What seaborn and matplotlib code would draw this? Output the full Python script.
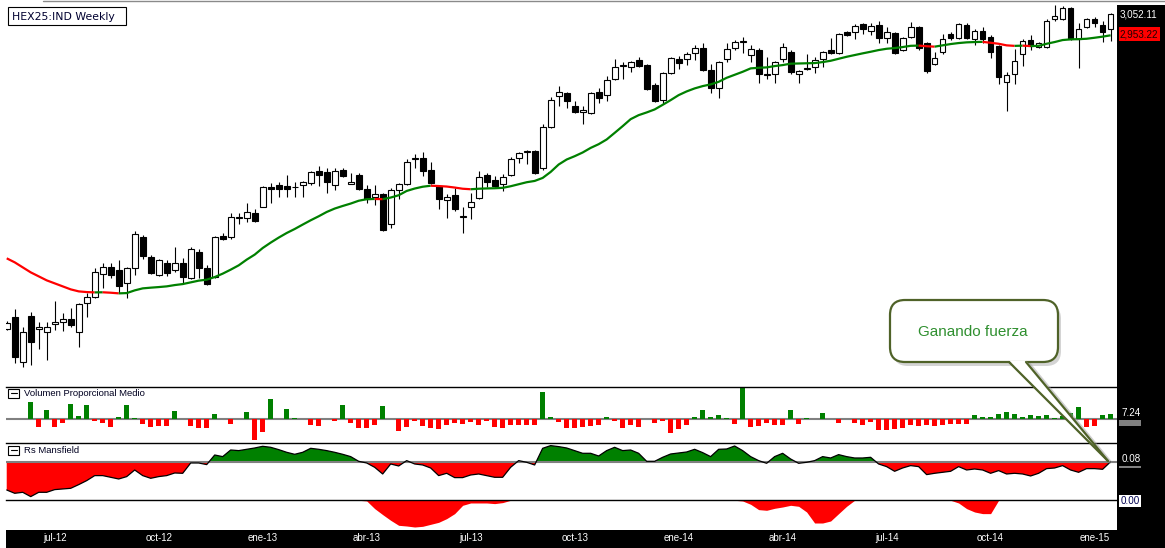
import numpy as np
import pandas as pd
import seaborn as sns
import matplotlib.pyplot as plt
from matplotlib.patches import Rectangle, FancyBboxPatch, Polygon
from matplotlib.lines import Line2D

# HEX25:IND weekly candles
first_week = "2012-05-25"
month_abbr = {1: "ene", 4: "abr", 7: "jul", 10: "oct"}

opens = [1577, 1629, 1418, 1638, 1573, 1559, 1596, 1606, 1620, 1559,
         1695, 1723, 1831, 1864, 1850, 1789, 1859, 2005, 1911, 1827,
         1883, 1850, 1883, 1812, 1935, 1859, 1817, 2010, 2005, 2094,
         2094, 2118, 2146, 2240, 2250, 2245, 2240, 2250, 2259, 2315,
         2311, 2250, 2320, 2254, 2297, 2231, 2193, 2207, 2066, 2226,
         2254, 2372, 2376, 2320, 2245, 2179, 2202, 2099, 2146, 2188,
         2297, 2273, 2254, 2297, 2376, 2405, 2409, 2329, 2522, 2668,
         2682, 2621, 2593, 2588, 2687, 2673, 2748, 2809, 2804, 2837,
         2814, 2719, 2649, 2776, 2842, 2842, 2870, 2893, 2790, 2705,
         2842, 2893, 2922, 2860, 2884, 2767, 2771, 2842, 2875, 2771,
         2795, 2804, 2842, 2884, 2870, 2969, 2969, 3006, 2973, 3001,
         2940, 2964, 2884, 2945, 2992, 2917, 2818, 2875, 2959, 2940,
         3001, 2936, 2973, 2945, 2903, 2734, 2771, 2865, 2931, 2898,
         2898, 3030, 3030, 3081, 2936, 2992, 3030, 3001, 2983]
highs = [1610, 1667, 1582, 1653, 1606, 1606, 1704, 1648, 1671, 1695,
         1742, 1859, 1883, 1883, 1897, 1864, 2033, 2014, 1921, 1902,
         1897, 1958, 1906, 1958, 1949, 1874, 2010, 2024, 2118, 2118,
         2165, 2137, 2245, 2259, 2264, 2297, 2264, 2268, 2315, 2339,
         2329, 2329, 2329, 2306, 2306, 2250, 2250, 2212, 2235, 2259,
         2372, 2395, 2405, 2358, 2250, 2207, 2235, 2146, 2212, 2315,
         2306, 2292, 2301, 2381, 2405, 2414, 2414, 2536, 2663, 2715,
         2687, 2644, 2621, 2687, 2705, 2762, 2842, 2828, 2832, 2851,
         2818, 2729, 2781, 2851, 2856, 2875, 2907, 2917, 2818, 2832,
         2917, 2931, 2945, 2907, 2893, 2851, 2832, 2917, 2884, 2790,
         2865, 2851, 2879, 2940, 2964, 2973, 3006, 3011, 3011, 3020,
         2992, 2969, 2945, 3016, 2997, 2922, 2875, 2959, 2969, 3011,
         3011, 2983, 2992, 2954, 2907, 2781, 2889, 2936, 2954, 2922,
         3030, 3096, 3091, 3086, 3011, 3034, 3039, 3020, 3058]
lows = [1568, 1413, 1394, 1404, 1483, 1427, 1568, 1563, 1582, 1488,
        1629, 1718, 1765, 1812, 1742, 1718, 1827, 1902, 1831, 1822,
        1822, 1841, 1789, 1808, 1812, 1779, 1812, 1991, 1996, 2066,
        2076, 2076, 2146, 2165, 2193, 2193, 2193, 2193, 2250, 2245,
        2212, 2226, 2287, 2254, 2226, 2165, 2155, 2033, 2047, 2184,
        2250, 2329, 2292, 2255, 2137, 2094, 2127, 2024, 2090, 2184,
        2240, 2240, 2221, 2292, 2353, 2348, 2301, 2320, 2517, 2621,
        2611, 2588, 2536, 2583, 2635, 2644, 2743, 2748, 2781, 2804,
        2696, 2640, 2630, 2771, 2795, 2814, 2837, 2785, 2682, 2658,
        2828, 2884, 2870, 2828, 2729, 2748, 2729, 2828, 2771, 2729,
        2790, 2776, 2804, 2865, 2865, 2950, 2936, 2959, 2954, 2917,
        2917, 2865, 2879, 2940, 2884, 2776, 2814, 2865, 2931, 2936,
        2936, 2907, 2917, 2846, 2724, 2597, 2724, 2809, 2884, 2893,
        2893, 3020, 3025, 2931, 2799, 2987, 2992, 2922, 2926]
closes = [1601, 1441, 1559, 1512, 1582, 1582, 1606, 1620, 1592, 1690,
          1723, 1841, 1864, 1827, 1775, 1859, 2019, 1916, 1836, 1897,
          1836, 1883, 1817, 1949, 1859, 1784, 2005, 1996, 2099, 2099,
          2123, 2080, 2240, 2231, 2231, 2231, 2241, 2264, 2311, 2297,
          2264, 2315, 2292, 2264, 2231, 2184, 2207, 2038, 2226, 2254,
          2358, 2376, 2315, 2259, 2184, 2193, 2137, 2104, 2170, 2287,
          2264, 2245, 2287, 2372, 2400, 2409, 2306, 2522, 2649, 2687,
          2644, 2593, 2602, 2682, 2658, 2743, 2804, 2814, 2828, 2809,
          2701, 2644, 2776, 2846, 2823, 2865, 2893, 2790, 2705, 2828,
          2889, 2922, 2926, 2889, 2771, 2771, 2828, 2898, 2781, 2785,
          2799, 2837, 2875, 2870, 2959, 2954, 2997, 2983, 2997, 2940,
          2969, 2870, 2940, 2992, 2893, 2785, 2846, 2936, 2940, 3006,
          2940, 2973, 2936, 2875, 2757, 2767, 2832, 2926, 2903, 2917,
          3020, 3044, 3081, 2936, 2983, 3030, 3011, 2969, 3052.11]

# moving average drawn on the price panel
ma30 = [1906.4, 1887.6, 1864.1, 1840.6, 1821.8, 1803.0, 1788.9, 1774.8, 1760.7, 1751.3,
        1748.0, 1746.5, 1747.0, 1745.0, 1742.0, 1743.3, 1756.0, 1765.4, 1768.7, 1771.5,
        1774.8, 1780.9, 1785.6, 1793.6, 1801.6, 1806.3, 1818.5, 1834.5, 1853.3, 1873.5,
        1900.3, 1923.8, 1954.8, 1980.2, 2003.7, 2025.3, 2044.1, 2064.8, 2085.0, 2103.8,
        2124.0, 2140.0, 2152.2, 2163.5, 2176.7, 2184.0, 2185.0, 2184.2, 2191.7, 2202.5,
        2222.7, 2234.0, 2242.5, 2247.2, 2245.7, 2243.4, 2238.7, 2233.1, 2230.7, 2233.1,
        2234.5, 2235.4, 2237.3, 2244.8, 2254.2, 2263.6, 2269.7, 2283.8, 2312.0, 2346.8,
        2370.3, 2385.8, 2403.2, 2424.8, 2442.2, 2464.3, 2495.3, 2526.8, 2559.7, 2578.5,
        2591.2, 2605.3, 2626.9, 2649.0, 2672.5, 2689.9, 2704.0, 2714.8, 2722.8, 2735.0,
        2753.8, 2767.9, 2782.0, 2798.0, 2800.8, 2802.7, 2808.8, 2813.5, 2820.1, 2821.0,
        2822.0, 2822.9, 2827.6, 2833.7, 2843.1, 2852.5, 2860.5, 2868.5, 2876.0, 2884.0,
        2890.1, 2893.4, 2898.1, 2904.0, 2905.0, 2902.0, 2900.0, 2906.1, 2912.2, 2916.9,
        2920.2, 2921.6, 2922.5, 2918.3, 2913.6, 2906.1, 2903.7, 2904.7, 2902.8, 2903.7,
        2913.6, 2921.6, 2931.0, 2934.3, 2935.2, 2937.1, 2941.8, 2947.0, 2953.22]

nan = np.nan
vol_prop = [nan, nan, nan, 23.6, -10.4, 12.2, -10.4, -5.0, 20.4, 4.1,
            19.0, -3.2, -5.0, -10.4, 2.7, 19.0, 1.8, -6.3, -10.4, -9.1,
            -9.1, 10.9, 0, -9.1, -12.7, -11.8, 6.8, 0, -6.3, 0,
            9.5, -28.1, -17.2, 27.2, 0, 13.6, 1.8, 0, -7.7, -9.1,
            0, -2.3, 19.0, -5.0, -12.7, -11.8, -7.7, 17.7, 0, -15.9,
            -10.4, -2.3, -9.1, -11.8, -13.1, -7.7, -5.0, -6.3, -3.6, -7.7,
            -2.3, -10.4, -11.8, -7.7, -7.7, -7.7, -7.7, 36.7, 2.7, -3.6,
            -12.7, -12.7, -10.4, -9.1, -7.7, 2.7, -2.3, -11.8, -7.7, -10.4,
            0, -5.0, -2.3, -18.6, -13.1, -7.7, 2.7, 12.2, 2.7, 5.4,
            1.8, -6.3, 42.2, -10.4, -9.1, -5.0, -7.7, -7.7, 12.2, -6.3,
            1.8, 0, 8.2, 0, -5.0, 0, -5.0, -7.7, -3.6, -14.5,
            -14.5, -13.1, -11.8, -7.7, -9.1, -7.7, -9.1, -7.7, -6.3, -6.3,
            -6.3, 5.4, 2.7, 2.7, 6.8, 9.5, 6.8, 2.7, 5.4, 4.1,
            5.4, 1.8, 4.1, 8.2, 16.3, -10.4, -9.1, 5.4, 7.24]

rs_mansfield = [-4.43, -4.96, -4.8, -5.49, -4.8, -4.8, -4.37, -4.27, -4.16, -3.57,
                -2.93, -2.13, -2.13, -2.4, -2.67, -2.29, -1.23, -2.13, -2.56, -2.29,
                -2.13, -1.71, -1.76, -0.11, -0.11, -0.37, 1.17, 0.91, 1.97, 1.87,
                2.08, 2.29, 2.56, 2.4, 2.03, 1.6, 1.28, 1.6, 2.24, 2.08,
                1.87, 1.6, 1.28, 0.91, 0.16, -0.11, -0.8, -1.87, -0.27, -0.59,
                0.27, -0.27, -0.43, -0.91, -2.13, -1.76, -2.45, -2.45, -2.03, -1.87,
                -2.13, -2.4, -2.4, -0.8, 0.27, 0.0, -0.43, 2.24, 2.67, 2.51,
                2.29, 1.87, 1.44, 1.44, 1.01, 1.87, 2.4, 1.87, 1.97, 1.44,
                0.16, 0.16, 0.8, 1.33, 1.49, 1.65, 2.08, 1.55, 0.91, 2.08,
                2.13, 2.61, 1.87, 0.91, 0.27, -0.16, 0.91, 1.44, 0.53, -0.16,
                0.0, 0.27, 0.91, 0.69, 1.23, 0.91, 0.69, 0.69, 0.8, -0.27,
                -0.69, -1.44, -0.91, -0.53, -0.69, -1.97, -1.76, -1.6, -1.44, -0.69,
                -1.23, -1.07, -1.23, -1.76, -1.33, -1.87, -1.76, -1.87, -2.19, -1.76,
                -1.01, -0.91, -0.53, -1.23, -1.6, -1.01, -1.01, -1.12, 0.08]

# lower panel (below the 0.00 line)
rs_low = [0] * 40 + \
         [0, 0, 0, 0, 0, -0.1, -1.33, -2.29, -3.2, -4.0,
          -4.11, -4.27, -4.16, -3.84, -3.52, -2.93, -2.13, -0.8, -0.43, -0.43,
          -0.43, -0.53, -0.37, 0, 0, 0, 0, 0, 0, 0] + [0] * 20 + \
         [0, 0, -0.11, -0.64, -1.49, -1.6, -1.28, -1.07, -0.8, -0.96,
          -1.87, -3.63, -3.63, -3.31, -2.13, -0.96, 0, 0, 0, 0,
          0, 0, 0, 0, 0, 0, 0, 0, 0, -0.43,
          -1.33, -1.87, -2.13, -2.13, 0, 0, 0, 0, 0, 0] + [0] * 9

GREEN = "#008000"
RED = "#ff0000"
OLIVE = "#4f6228"

sns.set_theme(style="white")
plt.rcParams["font.family"] = ["DejaVu Sans"]

W, H = 1165, 548
fig = plt.figure(figsize=(W / 100, H / 100), dpi=100)
fig.patch.set_facecolor("white")


def frac(x0, y0, x1, y1):
    # pixel box (top-left origin) -> figure fraction rect
    return [x0 / W, 1 - y1 / H, (x1 - x0) / W, (y1 - y0) / H]


def inch(x, y):
    return x / 100, (H - y) / 100


ax = fig.add_axes(frac(6, 0, 1117, 386.5))
ax_vol = fig.add_axes(frac(6, 386.5, 1117, 443.3))
ax_rs = fig.add_axes(frac(6, 443.3, 1117, 500.3))
ax_low = fig.add_axes(frac(6, 500.3, 1117, 529.7))
ax_time = fig.add_axes(frac(6, 529.7, 1117, 548))

n = len(closes)
idx = np.arange(n)
o = np.array(opens, float)
hi = np.array(highs, float)
lo = np.array(lows, float)
c = np.array(closes, float)

# candles
up = c >= o
ax.vlines(idx, lo, hi, color="black", linewidth=0.8, zorder=2)
ax.bar(idx, np.maximum(np.abs(c - o), 3), bottom=np.minimum(o, c), width=0.72,
       color=np.where(up, "white", "black"), edgecolor="black", linewidth=0.8, zorder=3)

# moving average, green while rising, red while falling
ma = np.array(ma30)
rising = np.diff(ma) > 0
start = 0
for i in range(1, len(rising) + 1):
    if i == len(rising) or rising[i] != rising[start]:
        ax.plot(idx[start:i + 1], ma[start:i + 1], color=GREEN if rising[start] else RED,
                lw=1.6, solid_capstyle="butt", zorder=4)
        start = i

# volume
vol_df = pd.DataFrame({"semana": idx, "vol": vol_prop}).dropna()
vol_df["signo"] = np.where(vol_df["vol"] >= 0, "alza", "baja")
sns.barplot(data=vol_df, x="semana", y="vol", hue="signo",
            palette={"alza": GREEN, "baja": RED}, native_scale=True, dodge=False,
            width=0.66, errorbar=None, saturation=1, linewidth=0, legend=False, ax=ax_vol)
ax_vol.axhline(0, color="#808080", lw=1.5, zorder=0)

# Rs Mansfield
rs = np.array(rs_mansfield)
ax_rs.fill_between(idx, rs, 0, where=rs >= 0, interpolate=True, color=GREEN, lw=0, zorder=1)
ax_rs.fill_between(idx, rs, 0, where=rs <= 0, interpolate=True, color=RED, lw=0, zorder=1)
ax_rs.axhline(0, color="#808080", lw=1.5, zorder=2)
sns.lineplot(x=idx, y=rs, color="black", linewidth=0.9, ax=ax_rs, zorder=3)

ax_low.fill_between(idx, np.array(rs_low, float), 0, color=RED, lw=0)

for a in (ax, ax_vol, ax_rs, ax_low, ax_time):
    a.set_xlim(-0.09, 138.8)
    a.set_yticks([])
    a.set_xlabel("")
    a.set_ylabel("")
    for s in a.spines.values():
        s.set_visible(False)
for a in (ax, ax_vol, ax_rs, ax_low):
    a.set_xticks([])
for a in (ax_vol, ax_rs, ax_low):
    a.spines["top"].set_visible(True)
    a.spines["top"].set_color("black")
    a.spines["top"].set_linewidth(1)

ax.set_ylim(1304.8, 3119)
ax_vol.set_ylim(-33.05, 44.2)
ax_rs.set_ylim(-6.08, 3.04)
ax_low.set_ylim(-4.7, 0)

# date axis
ax_time.set_facecolor("black")
dates = pd.date_range(first_week, periods=n, freq="W-FRI")
tick_pos = [i for i in range(1, n)
            if dates[i].month != dates[i - 1].month and dates[i].month in month_abbr]
tick_lab = [f"{month_abbr[dates[i].month]}-{dates[i]:%y}" for i in tick_pos]
ax_time.set_xticks(tick_pos, tick_lab)
ax_time.tick_params(axis="x", length=0, pad=-11, labelcolor="white", labelsize=7)
for t in ax_time.get_xticklabels():
    t.set_fontfamily("Liberation Sans")

T = fig.dpi_scale_trans

# right price scale
fig.add_artist(Rectangle(inch(1117, 548), 0.48, 5.43, transform=T, fc="black", ec="none"))
fig.add_artist(Line2D([0.43, 11.65], [5.475, 5.475], transform=T, color="#8a8a8a", lw=1))
lab = dict(transform=T, va="center", ha="left", fontsize=7.1, family="Liberation Sans")
fig.text(*inch(1120, 14.5), "3,052.11", color="white", **lab)
fig.add_artist(Rectangle(inch(1118.5, 41.5), 0.415, 0.14, transform=T, fc=RED, ec="none"))
fig.text(*inch(1120, 34.5), "2,953.22", color="#200000", **lab)
fig.text(*inch(1122, 413.5), "7.24", color="white", **lab)
fig.add_artist(Rectangle(inch(1119, 425.5), 0.22, 0.055, transform=T, fc="#808080", ec="none"))
fig.text(*inch(1122, 459.5), "0.08", color="white", **lab)
fig.add_artist(Rectangle(inch(1119, 468), 0.22, 0.02, transform=T, fc="#808080", ec="none"))
fig.add_artist(Rectangle(inch(1119, 507), 0.22, 0.12, transform=T, fc="white", ec="none"))
fig.text(*inch(1121, 501), "0.00", color="#000050", **lab)

# title box
fig.add_artist(Rectangle(inch(8, 25), 1.18, 0.18, transform=T, fc="white", ec="black", lw=0.8))
fig.text(*inch(12, 16.5), "HEX25:IND Weekly", transform=T, va="center", ha="left",
         fontsize=7.8, color="#000030")

# panel captions with collapse boxes
for y_mid, name in ((393.3, "Volumen Proporcional Medio"), (450.3, "Rs Mansfield")):
    fig.add_artist(Rectangle(inch(8, y_mid + 4.7), 0.11, 0.095, transform=T,
                             fc="white", ec="black", lw=0.8))
    fig.add_artist(Line2D([0.105, 0.165], [inch(0, y_mid)[1]] * 2, transform=T,
                          color="black", lw=0.8))
    fig.text(*inch(24, y_mid + 0.3), name, transform=T, va="center", ha="left",
             fontsize=6.8, family="Liberation Sans", color="#000020")

# callout
fig.add_artist(FancyBboxPatch((8.93, 1.82), 1.68, 0.62, boxstyle="round,pad=0,rounding_size=0.15",
                              transform=T, fc="#a0a0a0", ec="none", alpha=0.45, zorder=5))
fig.add_artist(Line2D([10.29, 11.10], [1.84, 0.86], transform=T, color="#a0a0a0",
                      alpha=0.5, lw=2.5, zorder=5))
fig.add_artist(FancyBboxPatch((8.90, 1.86), 1.68, 0.62, boxstyle="round,pad=0,rounding_size=0.15",
                              transform=T, fc="white", ec=OLIVE, lw=1.6, zorder=6))
fig.add_artist(Polygon([(10.09, 1.875), (10.26, 1.875), (11.08, 0.87)], closed=True,
                       transform=T, fc="white", ec="none", zorder=7))
for x_top in (10.09, 10.26):
    fig.add_artist(Line2D([x_top, 11.08], [1.86, 0.87], transform=T, color=OLIVE,
                          lw=1.6, zorder=8))
fig.text(9.73, 2.16, "Ganando fuerza", transform=T, ha="center", va="center",
         fontsize=11, family="Liberation Sans", color="#2f8f2f", zorder=9)

fig.savefig("out.png", dpi=100)
